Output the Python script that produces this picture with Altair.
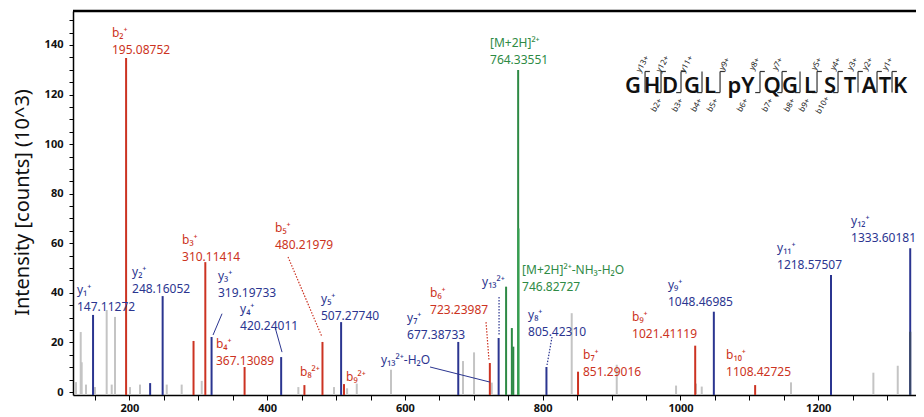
import altair as alt
import pandas as pd

# ---------------- data ----------------
noise_mz = [122.4, 129.2, 130.6, 136.9, 149.9, 166.9, 174.2, 179.0, 200.8, 215.3, 254.1, 275.8,
            304.9, 445.2, 497.0, 516.0, 530.0, 579.7, 684.3, 700.3, 726.0, 842.1, 907.5, 993.6,
            1022.6, 1030.9, 1160.5, 1280.1, 1315.5]
noise_int = [4, 24.2, 12, 3, 2, 33.1, 3, 30.3, 2, 3, 3, 3,
             4.5, 2, 2, 1.5, 3.4, 9, 12.5, 16, 3.8, 31.8, 11, 2.6,
             3.4, 2.2, 3.9, 7.8, 10.6]

y_mz = [147.11, 230.0, 248.16, 319.20, 420.24, 507.28, 677.39, 736.0, 805.42, 1048.47, 1218.58, 1333.60]
y_int = [31.1, 3.6, 38.7, 22.2, 14.1, 28.2, 20.2, 21.8, 10.1, 32.4, 47.2, 58.0]

b_mz = [195.09, 293.0, 310.11, 367.13, 454.0, 480.22, 511.5, 723.24, 851.29, 1021.41, 1108.43]
b_int = [134.7, 20.6, 52.4, 10.1, 2.8, 20.2, 3.2, 11.7, 8.2, 18.7, 2.8]

m_mz = [746.83, 755.2, 757.3, 764.34]
m_int = [42.5, 25.8, 18.3, 129.9]

overlay_mz = [764.84, 1333.60]
overlay_int = [66.0, 24.3]
overlay_kind = ["M2", "Y2"]

# annotation labels (ion name, m/z text, kind, anchor m/z, anchor intensity)
lab_name = ["b₂⁺", "y₁⁺", "y₂⁺", "b₃⁺", "y₃⁺", "y₄⁺", "b₄⁺", "b₅⁺", "b₈²⁺", "b₉²⁺", "y₅⁺",
            "y₇⁺", "b₆⁺", "y₁₃²⁺-H₂O", "y₁₃²⁺", "[M+2H]²⁺-NH₃-H₂O", "[M+2H]²⁺", "y₈⁺", "b₇⁺",
            "b₉⁺", "y₉⁺", "b₁₀⁺", "y₁₁⁺", "y₁₂⁺"]
lab_value = ["195.08752", "147.11272", "248.16052", "310.11414", "319.19733", "420.24011",
             "367.13089", "480.21979", "", "", "507.27740", "677.38733", "723.23987", "", "",
             "746.82727", "764.33551", "805.42310", "851.29016", "1021.41119", "1048.46985",
             "1108.42725", "1218.57507", "1333.60181"]
lab_kind = ["b", "y", "y", "b", "y", "y", "b", "b", "b", "b", "y", "y", "b", "y", "y", "M", "M",
            "y", "b", "b", "y", "b", "y", "y"]
lab_x = [174.6, 123.8, 203.7, 276.3, 328.5, 360.5, 325.6, 411.3, 447.6, 514.4, 478.1, 603.0,
         636.4, 565.2, 711.9, 770.0, 723.5, 778.7, 858.5, 929.7, 981.9, 1066.2, 1140.2, 1247.7]
lab_y = [144.8, 41.2, 48.4, 61.3, 47.0, 33.4, 19.4, 66.2, 8.1, 6.1, 37.5, 29.9,
         39.9, 12.9, 44.4, 49.2, 140.8, 31.1, 14.9, 30.3, 43.2, 14.9, 58.1, 69.0]

# leader lines from labels to peaks
lead_kind = ["y", "y", "b", "b", "y", "y", "y"]
lead_dash = ["solid", "solid", "dot", "dot", "dot", "solid", "dot"]
lead_x1 = [334.4, 411.3, 430.2, 717.7, 736.6, 636.4, 813.5]
lead_y1 = [31.6, 26.2, 54.5, 28.2, 38.3, 10.1, 22.2]
lead_x2 = [321.3, 421.5, 479.6, 722.0, 736.6, 723.5, 806.3]
lead_y2 = [23.0, 16.1, 22.2, 12.9, 23.0, 4.0, 10.9]

# peptide sequence inset
residues = ["G", "H", "D", "G", "L", "pY", "Q", "G", "L", "S", "T", "A", "T", "K"]
res_x = [931.1, 958.7, 984.8, 1016.8, 1042.9, 1088.0, 1133.0, 1159.1, 1188.2, 1217.2,
         1246.2, 1273.8, 1297.0, 1318.8]
cleave_x = [948.6, 971.8, 1000.8, 1031.3, 1057.5, 1115.5, 1147.5, 1173.6, 1198.3, 1228.8,
            1257.8, 1285.4, 1307.2]
cleave_y_ion = [True, True, True, False, True, True, True, False, True, True, True, True, True]
cleave_b_ion = [False, True, True, True, True, True, True, True, True, True, False, False, False]
yfrag_lab = ["y13+", "y12+", "y11+", "y9+", "y8+", "y7+", "y5+", "y4+", "y3+", "y2+", "y1+"]
yfrag_x = [945.6, 974.7, 1009.5, 1064.7, 1108.3, 1141.7, 1198.3, 1225.9, 1250.6, 1272.4, 1301.4]
bfrag_lab = ["b2+", "b3+", "b4+", "b5+", "b6+", "b7+", "b8+", "b9+", "b10+"]
bfrag_x = [966.0, 996.5, 1024.1, 1047.3, 1090.9, 1127.2, 1159.1, 1180.9, 1207.0]

# ---------------- layout ----------------
X_MIN, X_MAX = 118, 1342
Y_MIN, Y_MAX = -1.2, 153.7
W, H = 843, 384
FONT = "Noto Sans"

kinds = ["b", "y", "M", "n", "M2", "Y2"]
kcolors = ["#cc3322", "#2b3590", "#2e8a45", "#c4c4c4", "#35a050", "#3a4868"]
cscale = alt.Scale(domain=kinds, range=kcolors)

xs = alt.Scale(domain=[X_MIN, X_MAX], nice=False, zero=False)
ys = alt.Scale(domain=[Y_MIN, Y_MAX], nice=False, zero=False)

peaks = pd.DataFrame({
    "mz": noise_mz + y_mz + b_mz + m_mz + overlay_mz,
    "inten": noise_int + y_int + b_int + m_int + overlay_int,
    "kind": ["n"] * len(noise_mz) + ["y"] * len(y_mz) + ["b"] * len(b_mz) + ["M"] * len(m_mz) + overlay_kind,
})
peaks["base"] = Y_MIN
peaks["order"] = range(len(peaks))

xticks = list(range(150, 1350, 50))
yticks = list(range(0, 155, 5))

xaxis = alt.Axis(values=xticks, labelExpr="datum.value % 200 == 0 ? format(datum.value, 'd') : ''",
                 tickSize=5, tickColor="black", domainColor="black", domainWidth=1.5,
                 labelFont=FONT, labelFontWeight="bold", labelFontSize=11, labelColor="#111",
                 labelPadding=2, grid=False, title=None, labelOverlap=False, labelBound=False)
yaxis = alt.Axis(values=yticks, labelExpr="datum.value % 20 == 0 ? format(datum.value, 'd') : ''",
                 tickSize=4, tickColor="black", domainColor="black", domainWidth=1.5,
                 labelFont=FONT, labelFontWeight="bold", labelFontSize=11, labelColor="#111",
                 labelPadding=6, grid=False, title="Intensity [counts] (10^3)", labelOverlap=False,
                 titleFont=FONT, titleFontSize=20, titleFontWeight="normal", titleColor="#111",
                 titleAngle=270, titleX=-51, titleY=191, titleAlign="center", titleBaseline="middle")


def X(field):
    return alt.X(field, scale=xs, axis=xaxis)


def Y(field):
    return alt.Y(field, scale=ys, axis=yaxis)


peak_layer = alt.Chart(peaks).mark_rule(strokeWidth=2).encode(
    x=X("mz:Q"), y=Y("inten:Q"), y2="base:Q",
    color=alt.Color("kind:N", scale=cscale, legend=None),
    order="order:Q",
)

frame = alt.Chart(pd.DataFrame({"a": [0]})).mark_rule(color="black", strokeWidth=2.5).encode(
    x=alt.value(0), x2=alt.value(W), y=alt.value(0))

labels = pd.DataFrame({"name": lab_name, "value": lab_value, "kind": lab_kind,
                       "lx": lab_x, "ly": lab_y})
name_layer = alt.Chart(labels).mark_text(align="left", baseline="middle", font=FONT, fontSize=12).encode(
    x=X("lx:Q"), y=Y("ly:Q"), text="name:N",
    color=alt.Color("kind:N", scale=cscale, legend=None))
value_layer = alt.Chart(labels).mark_text(align="left", baseline="middle", font=FONT, fontSize=12, dy=17).encode(
    x=X("lx:Q"), y=Y("ly:Q"), text="value:N",
    color=alt.Color("kind:N", scale=cscale, legend=None))

leads = pd.DataFrame({"kind": lead_kind, "dash": lead_dash, "x1": lead_x1, "y1": lead_y1,
                      "x2": lead_x2, "y2": lead_y2})
lead_solid = alt.Chart(leads).transform_filter("datum.dash == 'solid'").mark_rule(strokeWidth=1).encode(
    x=X("x1:Q"), y=Y("y1:Q"), x2="x2:Q", y2="y2:Q",
    color=alt.Color("kind:N", scale=cscale, legend=None))
lead_dot = alt.Chart(leads).transform_filter("datum.dash == 'dot'").mark_rule(strokeWidth=1.2, strokeDash=[1.5, 1.5]).encode(
    x=X("x1:Q"), y=Y("y1:Q"), x2="x2:Q", y2="y2:Q",
    color=alt.Color("kind:N", scale=cscale, legend=None))

# sequence inset
SEQ_Y = 123.6
TOP_Y, BOT_Y = 129.3, 120.8
HOOK = 7.0
res_df = pd.DataFrame({"r": residues, "x": res_x, "y": [SEQ_Y] * len(residues)})
seq_layer = alt.Chart(res_df).mark_text(font=FONT, fontSize=22, fontWeight=600, color="#111", baseline="middle").encode(
    x=X("x:Q"), y=Y("y:Q"), text="r:N")

segs = []
for cx, hy, hb in zip(cleave_x, cleave_y_ion, cleave_b_ion):
    segs.append({"x1": cx, "x2": cx, "y1": TOP_Y, "y2": BOT_Y})
    if hy:
        segs.append({"x1": cx, "x2": cx + HOOK, "y1": TOP_Y, "y2": TOP_Y})
    if hb:
        segs.append({"x1": cx - HOOK, "x2": cx, "y1": BOT_Y, "y2": BOT_Y})
seg_layer = alt.Chart(pd.DataFrame(segs)).mark_rule(color="#333", strokeWidth=1.2).encode(
    x=X("x1:Q"), x2="x2:Q", y=Y("y1:Q"), y2="y2:Q")

frag_df = pd.DataFrame({"t": yfrag_lab + bfrag_lab, "x": yfrag_x + bfrag_x,
                        "y": [132.2] * len(yfrag_lab) + [115.6] * len(bfrag_lab)})
frag_layer = alt.Chart(frag_df).mark_text(font=FONT, fontSize=8, angle=300, color="#222",
                                           baseline="middle", align="center").encode(
    x=X("x:Q"), y=Y("y:Q"), text="t:N")

chart = alt.layer(
    peak_layer, lead_solid, lead_dot, name_layer, value_layer, seg_layer, seq_layer, frag_layer, frame
).properties(
    width=W, height=H,
    autosize=alt.AutoSizeParams(type="none"),
    padding={"left": 65, "top": 3, "right": 0, "bottom": 22},
).configure_view(stroke=None).configure(background="white")

chart.save("out.html", embed_options={"renderer": "svg", "actions": False})
